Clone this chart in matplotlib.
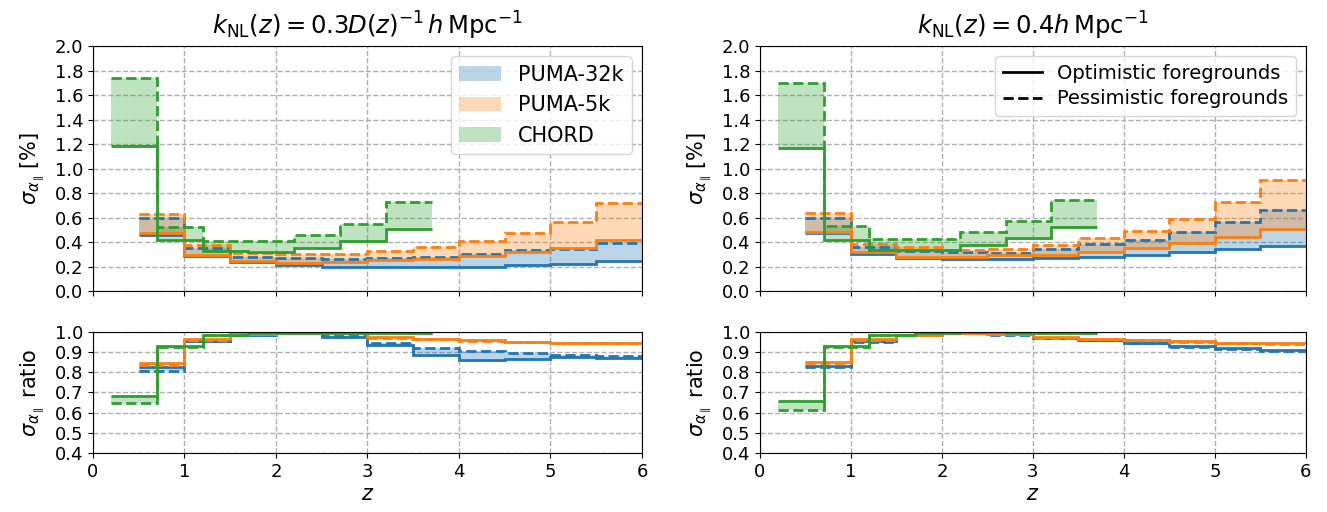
import numpy as np
import matplotlib
matplotlib.use("Agg")
import matplotlib.pyplot as plt
from matplotlib.patches import Patch
from matplotlib.lines import Line2D

# ---- bin edges ----
puma_edges = [0.5, 1.0, 1.5, 2.0, 2.5, 3.0, 3.5, 4.0, 4.5, 5.0, 5.5, 6.0]
chord_edges = [0.2, 0.7, 1.2, 1.7, 2.2, 2.7, 3.2, 3.7]

experiments = ["PUMA-32k", "PUMA-5k", "CHORD"]
colors = ["tab:blue", "tab:orange", "tab:green"]

# ---- left panel: kNL = 0.3 D(z)^-1 h/Mpc ----
L_p32_opt = [0.46, 0.285, 0.24, 0.21, 0.20, 0.193, 0.20, 0.20, 0.215, 0.22, 0.245]
L_p32_pes = [0.60, 0.355, 0.28, 0.27, 0.26, 0.267, 0.28, 0.30, 0.335, 0.34, 0.39]
L_p5_opt = [0.476, 0.294, 0.247, 0.225, 0.24, 0.253, 0.26, 0.288, 0.32, 0.35, 0.42]
L_p5_pes = [0.626, 0.375, 0.31, 0.30, 0.30, 0.327, 0.357, 0.408, 0.47, 0.566, 0.716]
L_ch_opt = [1.18, 0.416, 0.33, 0.32, 0.35, 0.41, 0.504]
L_ch_pes = [1.74, 0.52, 0.41, 0.41, 0.46, 0.55, 0.724]

L_r_p32_opt = [0.825, 0.955, 0.985, 0.997, 0.975, 0.933, 0.887, 0.863, 0.867, 0.877, 0.873]
L_r_p32_pes = [0.805, 0.953, 0.985, 0.997, 0.98, 0.947, 0.92, 0.907, 0.897, 0.887, 0.88]
L_r_p5_opt = [0.845, 0.963, 0.99, 0.998, 0.995, 0.975, 0.967, 0.958, 0.95, 0.947, 0.947]
L_r_p5_pes = [0.835, 0.958, 0.988, 0.997, 0.993, 0.972, 0.963, 0.955, 0.948, 0.945, 0.945]
L_r_ch_opt = [0.683, 0.93, 0.983, 0.993, 0.997, 0.995, 0.993]
L_r_ch_pes = [0.647, 0.925, 0.985, 0.995, 0.998, 0.997, 0.995]

# ---- right panel: kNL = 0.4 h/Mpc ----
R_p32_opt = [0.47, 0.30, 0.27, 0.26, 0.26, 0.267, 0.28, 0.294, 0.32, 0.34, 0.367]
R_p32_pes = [0.60, 0.36, 0.33, 0.32, 0.31, 0.343, 0.38, 0.416, 0.48, 0.566, 0.66]
R_p5_opt = [0.484, 0.316, 0.28, 0.275, 0.29, 0.294, 0.316, 0.35, 0.39, 0.44, 0.51]
R_p5_pes = [0.634, 0.384, 0.36, 0.334, 0.34, 0.375, 0.43, 0.49, 0.585, 0.73, 0.906]
R_ch_opt = [1.17, 0.416, 0.335, 0.335, 0.375, 0.43, 0.525]
R_ch_pes = [1.70, 0.53, 0.424, 0.424, 0.48, 0.571, 0.743]

R_r_p32_opt = [0.833, 0.955, 0.985, 0.997, 0.988, 0.97, 0.96, 0.947, 0.93, 0.92, 0.912]
R_r_p32_pes = [0.825, 0.952, 0.983, 0.996, 0.987, 0.968, 0.958, 0.945, 0.928, 0.918, 0.908]
R_r_p5_opt = [0.853, 0.963, 0.985, 0.997, 0.99, 0.975, 0.967, 0.962, 0.953, 0.947, 0.943]
R_r_p5_pes = [0.845, 0.96, 0.983, 0.996, 0.988, 0.972, 0.964, 0.959, 0.95, 0.944, 0.94]
R_r_ch_opt = [0.658, 0.93, 0.985, 0.995, 0.998, 0.997, 0.995]
R_r_ch_pes = [0.613, 0.928, 0.985, 0.995, 0.998, 0.997, 0.995]

titles = [r"$k_{\rm NL}(z) = 0.3 D(z)^{-1}\, h\,{\rm Mpc}^{-1}$",
          r"$k_{\rm NL}(z) = 0.4 h\,{\rm Mpc}^{-1}$"]

panels = [
    dict(top=[(L_p32_opt, L_p32_pes), (L_p5_opt, L_p5_pes), (L_ch_opt, L_ch_pes)],
         bot=[(L_r_p32_opt, L_r_p32_pes), (L_r_p5_opt, L_r_p5_pes), (L_r_ch_opt, L_r_ch_pes)]),
    dict(top=[(R_p32_opt, R_p32_pes), (R_p5_opt, R_p5_pes), (R_ch_opt, R_ch_pes)],
         bot=[(R_r_p32_opt, R_r_p32_pes), (R_r_p5_opt, R_r_p5_pes), (R_r_ch_opt, R_r_ch_pes)]),
]
edges_list = [puma_edges, puma_edges, chord_edges]

plt.rcParams['font.size'] = 13
fig = plt.figure(figsize=(13.27, 5.12), dpi=100)

lefts = [0.070, 0.5727]
width_l = [0.4138, 0.4114]
top_rect = (0.4316, 0.4785)
bot_rect = (0.1152, 0.2364)

LW = 2.0

def draw(ax, data):
    for (opt, pes), edges, c in zip(data, edges_list, colors):
        ax.stairs(pes, edges, baseline=opt, fill=True, color=c, alpha=0.3, lw=0)
    for (opt, pes), edges, c in zip(data, edges_list, colors):
        ax.stairs(opt, edges, baseline=None, color=c, lw=LW, ls='-')
        ax.stairs(pes, edges, baseline=None, color=c, lw=LW, ls='--')

for i in range(2):
    axt = fig.add_axes([lefts[i], top_rect[0], width_l[i], top_rect[1]])
    axb = fig.add_axes([lefts[i], bot_rect[0], width_l[i], bot_rect[1]], sharex=axt)
    draw(axt, panels[i]['top'])
    draw(axb, panels[i]['bot'])
    axt.set_xlim(0, 6)
    axt.set_ylim(0, 2.0)
    axt.set_yticks(np.arange(0, 2.01, 0.2))
    axb.set_ylim(0.4, 1.0)
    axb.set_yticks(np.arange(0.4, 1.001, 0.1))
    axt.set_xticks(range(7))
    axt.tick_params(labelbottom=False)
    for ax in (axt, axb):
        ax.grid(True, ls='--', color='#b0b0b0', lw=1.0)
        ax.set_axisbelow(True)
        ax.tick_params(labelsize=13)
    axt.set_title(titles[i], fontsize=17.5, pad=8)
    axt.set_ylabel(r"$\sigma_{\alpha_\parallel}\,[\%]$", fontsize=15, labelpad=6)
    axb.set_ylabel(r"$\sigma_{\alpha_\parallel}$ ratio", fontsize=15, labelpad=6)
    axb.set_xlabel(r"$z$", fontsize=15, labelpad=2)
    if i == 0:
        handles = [Patch(facecolor=c, alpha=0.3, label=n) for c, n in zip(colors, experiments)]
        axt.legend(handles=handles, loc='upper right', fontsize=15, labelspacing=0.5)
    else:
        handles = [Line2D([], [], color='k', lw=LW, ls='-', label='Optimistic foregrounds'),
                   Line2D([], [], color='k', lw=LW, ls='--', label='Pessimistic foregrounds')]
        axt.legend(handles=handles, loc='upper right', fontsize=14, labelspacing=0.35)

fig.savefig("out.png", dpi=100)
